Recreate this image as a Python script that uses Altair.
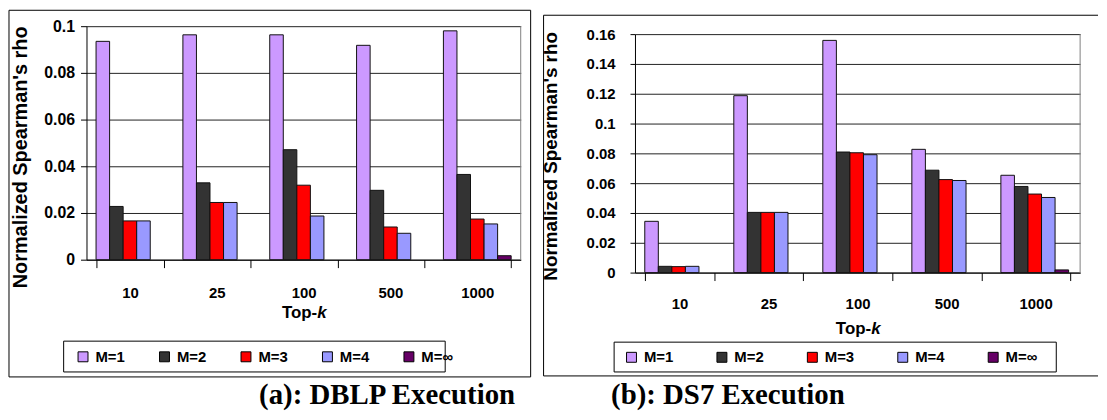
import altair as alt
import pandas as pd

categories = ["10", "25", "100", "500", "1000"]
series = ["M=1", "M=2", "M=3", "M=4", "M=∞"]
colors = ["#CC99FF", "#333333", "#FF0000", "#9999FF", "#660066"]

dblp_m1 = [0.0935, 0.0963, 0.0963, 0.0918, 0.0980]
dblp_m2 = [0.0228, 0.0329, 0.0471, 0.0297, 0.0365]
dblp_m3 = [0.0166, 0.0245, 0.0319, 0.0140, 0.0174]
dblp_m4 = [0.0166, 0.0245, 0.0187, 0.0113, 0.0153]
dblp_minf = [0.0, 0.0, 0.0, 0.0, 0.0017]

ds7_m1 = [0.0344, 0.1187, 0.1558, 0.0827, 0.0653]
ds7_m2 = [0.0042, 0.0404, 0.0809, 0.0687, 0.0578]
ds7_m3 = [0.0040, 0.0404, 0.0804, 0.0624, 0.0527]
ds7_m4 = [0.0042, 0.0404, 0.0791, 0.0618, 0.0504]
ds7_minf = [0.0, 0.0, 0.0, 0.0, 0.0018]

dblp_ticks = [0, 0.02, 0.04, 0.06, 0.08, 0.1]
ds7_ticks = [0, 0.02, 0.04, 0.06, 0.08, 0.1, 0.12, 0.14, 0.16]

y_title = "Normalized Spearman's rho"
x_title_a = "Top-"
x_title_b = "k"
caption_a = "(a): DBLP Execution"
caption_b = "(b): DS7 Execution"

SANS = "Liberation Sans"
SERIF = "Liberation Serif"


def make_df(cols):
    rows = []
    for s, vals in zip(series, cols):
        for c, v in zip(categories, vals):
            rows.append({"k": c, "m": s, "v": v})
    return pd.DataFrame(rows)


one = pd.DataFrame({"a": [0]})


def hline(x1, x2, y, color="black", w=1):
    return alt.Chart(one).mark_rule(color=color, strokeWidth=w).encode(
        x=alt.value(x1), x2=alt.value(x2), y=alt.value(y))


def vline(x, y1, y2, color="black", w=1):
    return alt.Chart(one).mark_rule(color=color, strokeWidth=w).encode(
        x=alt.value(x), y=alt.value(y1), y2=alt.value(y2))


def label(txt, x, y, size, font=SANS, align="center", baseline="middle", style="normal"):
    return alt.Chart(one).mark_text(
        text=txt, font=font, fontSize=size, fontWeight="bold", fontStyle=style,
        align=align, baseline=baseline, color="black").encode(
        x=alt.value(x), y=alt.value(y))


def panel(df, w, h, ytop, ymax, ticks, g):
    bars = alt.Chart(df).transform_filter("datum.v > 0").mark_bar(
        stroke="#111111", strokeWidth=1).encode(
        x=alt.X("k:N", sort=categories,
                scale=alt.Scale(domain=categories, paddingInner=0.22, paddingOuter=0.11),
                axis=alt.Axis(title=None, labelFont=SANS, labelFontSize=15,
                              labelFontWeight="bold", labelColor="black", labelAngle=0,
                              labelBaseline="top", labelPadding=g["xlabpad"],
                              tickBand="extent", tickSize=8, tickColor="black",
                              domainColor="black", grid=False)),
        xOffset=alt.XOffset("m:N", sort=series, scale=alt.Scale(domain=series)),
        y=alt.Y("v:Q",
                scale=alt.Scale(domain=[0, ymax], range=[h, ytop], nice=False, zero=True),
                axis=alt.Axis(values=ticks, format="~f", title=y_title,
                              titleX=g["tx"], titleY=g["ty"], titleAngle=270,
                              titleAlign="center", titleBaseline="middle",
                              titleFont=SANS, titleFontSize=g["tfs"], titleFontWeight="bold",
                              titleColor="black", labelFont=SANS, labelFontSize=g["lfs"],
                              labelFontWeight="bold", labelColor="black",
                              tickSize=g["ytick"], tickColor="black",
                              labelPadding=g["ylabpad"], domainColor="black",
                              grid=True, gridColor="#222222", gridOpacity=1)),
        fill=alt.Fill("m:N", scale=alt.Scale(domain=series, range=colors),
                      legend=alt.Legend(orient="none", legendX=g["lx"], legendY=g["ly"],
                                        direction="horizontal", title=None,
                                        symbolType="square", symbolSize=100,
                                        symbolStrokeColor="black", symbolStrokeWidth=1,
                                        labelFont=SANS, labelFontSize=15,
                                        labelFontWeight="bold", labelColor="black",
                                        labelOffset=5, columnPadding=g["cp"], padding=0,
                                        zindex=1)),
    )
    fx1, fx2, fy1, fy2 = g["frame"]
    layers = [
        hline(fx1, fx2, fy1), hline(fx1, fx2, fy2), vline(fx1, fy1, fy2),
    ]
    if g["frame_right"]:
        layers.append(vline(fx2, fy1, fy2))
    bx1, bx2, by1, by2 = g["box"]
    layers += [
        vline(w, ytop, h, color="#808080"),
        alt.Chart(one).mark_rect(fill="white", stroke="black", strokeWidth=1).encode(
            x=alt.value(bx1), x2=alt.value(bx2), y=alt.value(by1), y2=alt.value(by2)),
        bars,
        label(x_title_a, g["kx"], g["ky"], 17, align="right"),
        label(x_title_b, g["kx"], g["ky"], 17, align="left", style="italic"),
        label(g["cap"], g["cx"], g["cy"], 29, font=SERIF, baseline="alphabetic"),
    ]
    return alt.layer(*layers).properties(width=w, height=h)


left = panel(make_df([dblp_m1, dblp_m2, dblp_m3, dblp_m4, dblp_minf]),
             437, 235, 0, 0.1, dblp_ticks,
             dict(xlabpad=18, tx=-66, ty=131.5, tfs=20, lfs=16, ytick=6, ylabpad=6,
                  lx=-11, ly=325, cp=32, frame=(-78, 447, -16, 353), frame_right=True,
                  box=(-23, 361, 317, 348), kx=232.2, ky=289, cap=caption_a,
                  cx=302.5, cy=380))

right = panel(make_df([ds7_m1, ds7_m2, ds7_m3, ds7_m4, ds7_minf]),
              448, 248, 8, 0.16, ds7_ticks,
              dict(xlabpad=16, tx=-85, ty=130.5, tfs=19, lfs=15, ytick=5, ylabpad=15,
                   lx=-11, ly=325.5, cp=41, frame=(-92, 466, -11, 352), frame_right=False,
                   box=(-21, 424, 318, 348), kx=237.7, ky=305, cap=caption_b,
                   cx=93.5, cy=380))

chart = alt.hconcat(left, right, spacing=115, bounds="flush").resolve_legend(
    fill="independent").resolve_scale(y="independent").configure_view(
    stroke=None).properties(padding=0, background="white")

chart.save("out.html", embed_options={"renderer": "svg", "actions": False})
